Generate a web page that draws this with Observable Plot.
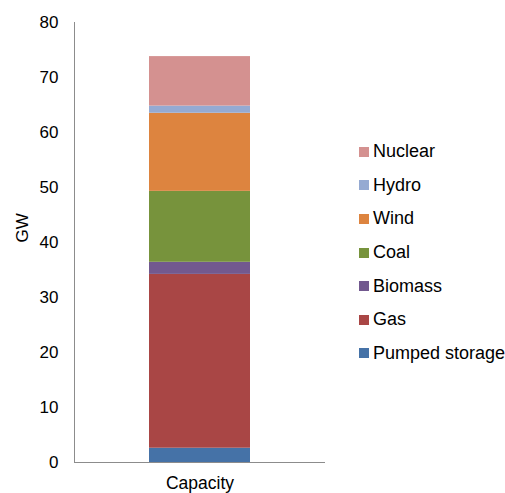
<!DOCTYPE html>
<html><head><meta charset="utf-8">
<script src="https://cdn.jsdelivr.net/npm/d3@7"></script>
<script src="https://cdn.jsdelivr.net/npm/@observablehq/plot@0.6"></script>
<style>
body{margin:0;background:#fff;font-family:"Liberation Sans",Arial,sans-serif;}
#wrap{position:relative;width:505px;height:493px;}
#legend{position:absolute;left:359px;top:135px;font-size:18px;color:#000;}
.item{display:flex;align-items:center;height:33.6px;white-space:nowrap;}
.sw{width:10px;height:10px;margin-right:4px;}
</style></head>
<body><div id="wrap"><div id="legend"></div></div>
<script>
const categories = ["Capacity"];
const sources = ["Pumped storage", "Gas", "Biomass", "Coal", "Wind", "Hydro", "Nuclear"];
const values = [2.6, 31.6, 2.2, 12.9, 14.2, 1.3, 9.0];
const colors = ["#4572a7", "#a94645", "#72598f", "#77933c", "#dd843f", "#95aad2", "#d49190"];
const yTicks = [0, 10, 20, 30, 40, 50, 60, 70, 80];

const data = sources.map((s, i) => ({category: categories[0], source: s, value: values[i]}));

const chart = Plot.plot({
  width: 505, height: 493,
  marginLeft: 74, marginTop: 22, marginBottom: 31, marginRight: 180,
  style: {fontFamily: '"Liberation Sans", Arial, sans-serif', fontSize: "17px", color: "#000", background: "#fff"},
  x: {domain: categories, padding: 0.426, label: null},
  y: {domain: [0, 80], ticks: yTicks, label: null},
  color: {domain: sources, range: colors},
  marks: [
    Plot.barY(data, {x: "category", y: "value", fill: "source", order: sources}),
    Plot.axisY({ticks: yTicks, tickSize: 0, tickPadding: 16, label: null, fontSize: 17}),
    Plot.axisX({tickSize: 0, tickPadding: 14, label: null, fontSize: 17.5}),
    Plot.frame({anchor: "left", stroke: "#8c8c8c", strokeOpacity: 1}),
    Plot.ruleY([0], {stroke: "#8c8c8c"}),
    Plot.text(["GW"], {frameAnchor: "left", dx: -52, rotate: -90, fontSize: 17, text: d => d})
  ]
});
document.getElementById("wrap").prepend(chart);

const legend = document.getElementById("legend");
for (let i = sources.length - 1; i >= 0; i--) {
  const it = document.createElement("div");
  it.className = "item";
  const sw = document.createElement("div");
  sw.className = "sw";
  sw.style.background = colors[i];
  const t = document.createElement("span");
  t.textContent = sources[i];
  it.appendChild(sw); it.appendChild(t);
  legend.appendChild(it);
}
</script></body></html>
